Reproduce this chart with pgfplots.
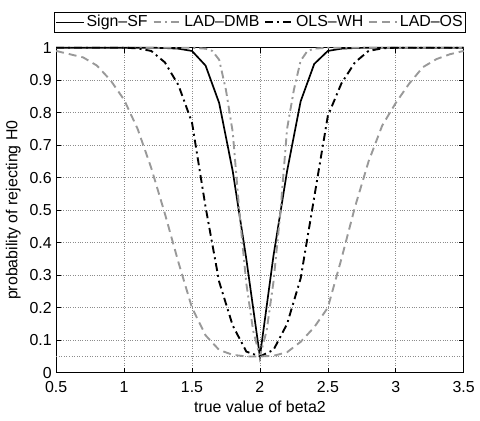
\documentclass[border=0pt]{standalone}
\usepackage{fontspec}
\setmainfont{Liberation Sans}
\usepackage{pgfplots}
\pgfplotsset{compat=1.18}
\usetikzlibrary{calc}

\definecolor{lgray}{gray}{0.6}

\begin{document}
\fontsize{16}{19}\selectfont
\begin{tikzpicture}
\begin{axis}[
    scale only axis,
    width=410pt, height=327pt,
    xmin=0.5, xmax=3.5, ymin=0, ymax=1,
    xtick={0.5,1,1.5,2,2.5,3,3.5},
    ytick={0,0.1,0.2,0.3,0.4,0.5,0.6,0.7,0.8,0.9,1},
    /pgf/number format/assume math mode=true,
    tick label style={font=\fontsize{16}{19}\selectfont},
    label style={font=\fontsize{16}{19}\selectfont},
    xticklabel style={yshift=-3.5pt},
    yticklabel style={xshift=1pt},
    tick align=inside,
    major tick length=5pt,
    tick style={black, line width=0.6pt},
    axis line style={line width=1.1pt},
    grid=major,
    grid style={dotted, gray!90, line width=0.6pt},
    xlabel={true value of beta2},
    ylabel={probability of rejecting H0},
    xlabel style={yshift=3pt},
    ylabel style={yshift=-2pt},
    legend columns=4,
    legend style={at={(0.5,1)}, anchor=south, yshift=15pt,
        draw=black, line width=0.9pt, inner sep=1pt,
        font=\fontsize{16}{19}\selectfont,
        /tikz/every even column/.append style={column sep=3pt}},
    legend cell align=left,
    legend image code/.code={\draw[#1] (0pt,0pt) -- (28pt,0pt);},
    clip=false,
]
\addplot[black, line width=1.7pt] coordinates {
    (0.5,1)(1.0,1)(1.2,1)(1.3,0.999)(1.4,0.997)(1.5,0.99)(1.6,0.945)
    (1.7,0.83)(1.8,0.62)(1.9,0.35)(2.0,0.05)(2.1,0.36)(2.2,0.62)
    (2.3,0.835)(2.4,0.95)(2.5,0.99)(2.6,0.997)(2.7,0.999)(2.8,1)(3.5,1)
};
\addlegendentry{Sign\textendash SF}

\addplot[lgray, line width=1.9pt, dash pattern=on 8pt off 4pt on 2pt off 4pt] coordinates {
    (0.5,1)(1.5,1)(1.6,0.997)(1.65,0.99)(1.7,0.963)(1.75,0.87)(1.8,0.74)
    (1.85,0.49)(1.9,0.275)(1.95,0.13)(2.0,0.05)(2.05,0.13)(2.1,0.28)
    (2.15,0.49)(2.2,0.75)(2.25,0.87)(2.3,0.96)(2.35,0.99)(2.4,0.997)
    (2.5,1)(3.5,1)
};
\addlegendentry{LAD\textendash DMB}

\addplot[black, line width=1.9pt, dash pattern=on 8pt off 4pt on 2pt off 4pt] coordinates {
    (0.5,1)(1.0,1)(1.1,0.998)(1.2,0.99)(1.3,0.955)(1.4,0.885)(1.5,0.77)
    (1.6,0.51)(1.7,0.28)(1.8,0.145)(1.9,0.065)(2.0,0.05)(2.1,0.07)
    (2.2,0.15)(2.3,0.29)(2.4,0.54)(2.5,0.79)(2.6,0.89)(2.7,0.955)
    (2.8,0.99)(2.9,0.998)(3.0,1)(3.5,1)
};
\addlegendentry{OLS\textendash WH}

\addplot[lgray, line width=1.9pt, dash pattern=on 8pt off 5pt] coordinates {
    (0.5,0.99)(0.6,0.98)(0.7,0.97)(0.8,0.945)(0.9,0.90)(1.0,0.84)
    (1.1,0.75)(1.2,0.63)(1.3,0.49)(1.4,0.34)(1.5,0.20)(1.6,0.115)
    (1.7,0.07)(1.8,0.055)(1.9,0.05)(2.0,0.05)(2.1,0.052)(2.2,0.063)
    (2.3,0.095)(2.4,0.14)(2.5,0.20)(2.6,0.35)(2.7,0.51)(2.8,0.65)
    (2.9,0.76)(3.0,0.83)(3.1,0.89)(3.2,0.94)(3.3,0.965)(3.4,0.98)(3.5,0.99)
};
\addlegendentry{LAD\textendash OS}

% size level
\addplot[gray!90, dotted, line width=0.6pt, forget plot] coordinates {
    (0.5,0.05)(3.5,0.05)
};
\end{axis}
\path ($(current axis.south west)+(-56.5pt,-48pt)$) rectangle ($(current axis.north east)+(13pt,48pt)$);
\end{tikzpicture}
\end{document}
